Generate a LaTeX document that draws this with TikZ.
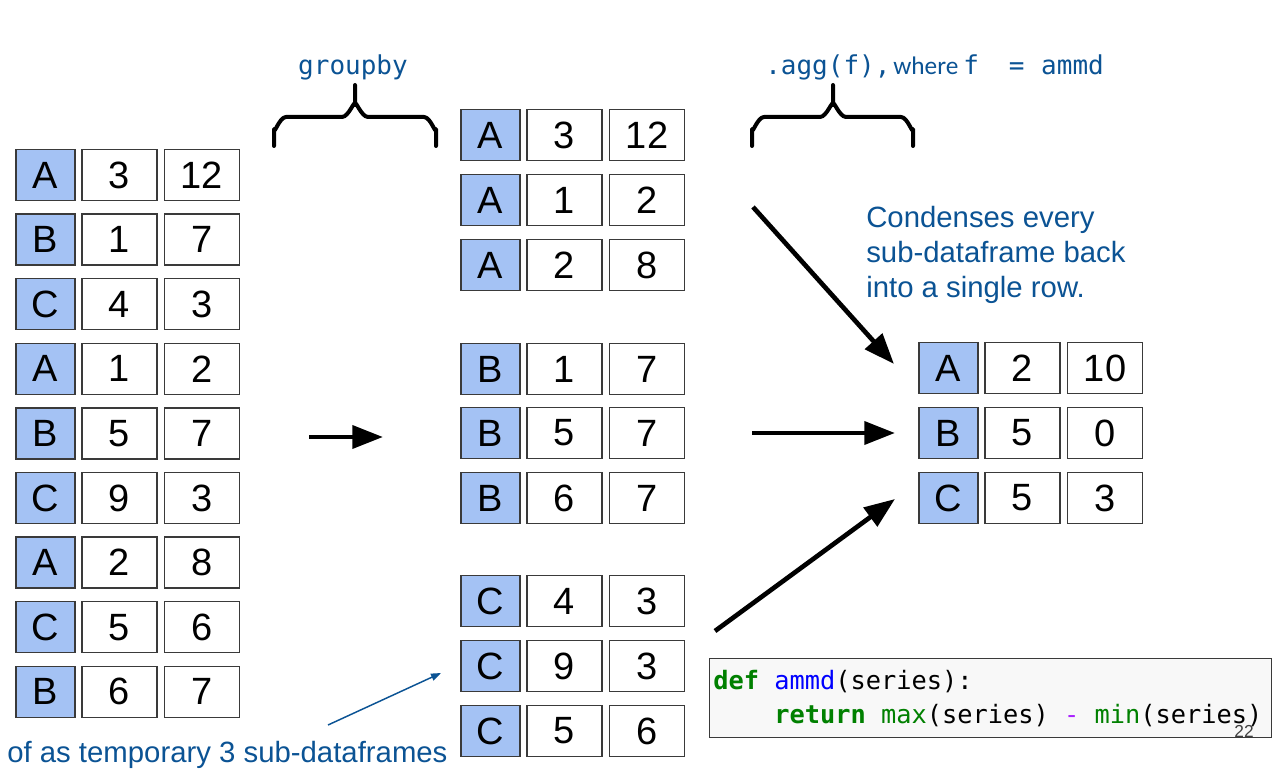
\documentclass[tikz,border=0pt]{standalone}
\usepackage{fontspec}
\setmainfont{Liberation Sans}
\newfontfamily\codefont{DejaVu Sans Mono}
\newfontfamily\calfont{Carlito}
\usetikzlibrary{arrows.meta}
\definecolor{keyblue}{HTML}{A4C2F4}
\definecolor{noteblue}{RGB}{11,83,148}
\definecolor{cellline}{HTML}{3A3A3A}
\definecolor{kwgreen}{HTML}{008000}
\definecolor{fnblue}{HTML}{0000FF}
\definecolor{oppurple}{HTML}{AA22FF}
\definecolor{codebg}{HTML}{F8F8F8}

% one row of a small data frame: name, left edge, centre y, key, two values
\newcommand\dfrow[6]{%
  \node[keycell] (#1k) at (#2+29.5,#3) {#4};
  \node[valcell] (#1a) at (#2+103.5,#3) {#5};
  \node[valcell] (#1b) at (#2+186,#3) {#6};}

\begin{document}
\begin{tikzpicture}[x=0.75pt,y=-0.75pt,
  cell/.style={draw=cellline,line width=1.1pt,inner sep=0pt,
    minimum height=38.25pt,font=\fontsize{28.5}{34}\selectfont},
  keycell/.style={cell,fill=keyblue,minimum width=44.25pt},
  valcell/.style={cell,fill=white,minimum width=56.25pt},
  bigarrow/.style={line width=3.5pt,-{Triangle[length=23pt,width=17pt]}},
  thinarrow/.style={draw=noteblue,line width=1.1pt,-{Triangle[length=7.5pt,width=5.5pt]}},
  bracestyle/.style={line width=3pt,line cap=round,line join=round},
  note/.style={text=noteblue,inner sep=0pt,font=\fontsize{22}{26.25}\selectfont},
  monolabel/.style={text=noteblue,inner sep=0pt,font=\codefont\fontsize{19.5}{23}\selectfont},
  codeline/.style={inner sep=0pt,anchor=base west,font=\codefont\fontsize{19}{23}\selectfont}]
\path[use as bounding box] (0,0) rectangle (1280,770);

% original data frame
\dfrow{L1}{16}{175}{A}{3}{12}
\dfrow{L2}{16}{239.6}{B}{1}{7}
\dfrow{L3}{16}{304.2}{C}{4}{3}
\dfrow{L4}{16}{368.8}{A}{1}{2}
\dfrow{L5}{16}{433.4}{B}{5}{7}
\dfrow{L6}{16}{498}{C}{9}{3}
\dfrow{L7}{16}{562.6}{A}{2}{8}
\dfrow{L8}{16}{627.2}{C}{5}{6}
\dfrow{L9}{16}{691.8}{B}{6}{7}

% grouped sub-frames
\dfrow{GA1}{461}{135}{A}{3}{12}
\dfrow{GA2}{461}{200}{A}{1}{2}
\dfrow{GA3}{461}{265}{A}{2}{8}
\dfrow{GB1}{461}{369}{B}{1}{7}
\dfrow{GB2}{461}{433}{B}{5}{7}
\dfrow{GB3}{461}{498}{B}{6}{7}
\dfrow{GC1}{461}{601}{C}{4}{3}
\dfrow{GC2}{461}{666}{C}{9}{3}
\dfrow{GC3}{461}{731}{C}{5}{6}

% aggregated result
\dfrow{R1}{919}{368}{A}{2}{10}
\dfrow{R2}{919}{433}{B}{5}{0}
\dfrow{R3}{919}{498}{C}{5}{3}

% braces
\draw[bracestyle] (274,146) -- (274,129) to[out=-90,in=180] (286,117) -- (342,117)
  to[out=0,in=90] (355,105) -- (355,85);
\draw[bracestyle] (436,146) -- (436,129) to[out=-90,in=0] (424,117) -- (368,117)
  to[out=180,in=90] (355,105);
\draw[bracestyle] (752,146) -- (752,129) to[out=-90,in=180] (764,117) -- (820,117)
  to[out=0,in=90] (833,105) -- (833,85);
\draw[bracestyle] (913,146) -- (913,129) to[out=-90,in=0] (901,117) -- (846,117)
  to[out=180,in=90] (833,105);

% labels above the braces
\node[monolabel,anchor=base] (grp) at (353,75) {groupby};
\node[monolabel,anchor=base west] (agg) at (765,75) {.agg(f),};
\node[note,anchor=base west,font=\calfont\fontsize{19}{23}\selectfont] (whr) at (893,75) {where};
\node[monolabel,anchor=base west] (fdef) at (963,75) {f\hspace{22.5pt}=\hspace{12.5pt}ammd};

% explanatory notes
\node[note,anchor=north west,align=left] (cond) at (866,206)
  {Condenses every\\sub-dataframe back\\into a single row.};
\node[note,anchor=base west] (tmp) at (7,762) {of as temporary 3 sub-dataframes};

% arrows
\coordinate (a1s) at (309,437);  \coordinate (a1e) at (383,437);
\coordinate (a2s) at (752,433);  \coordinate (a2e) at (895,433);
\coordinate (a3s) at (753,207);  \coordinate (a3e) at (894,364);
\coordinate (a4s) at (715,631);  \coordinate (a4e) at (895,499);
\coordinate (t1s) at (328,725);  \coordinate (t1e) at (441,673);
\draw[bigarrow] (a1s) -- (a1e);
\draw[bigarrow] (a2s) -- (a2e);
\draw[bigarrow] (a3s) -- (a3e);
\draw[bigarrow] (a4s) -- (a4e);
\draw[thinarrow] (t1s) -- (t1e);

% code listing
\node[draw=cellline,line width=1pt,fill=codebg,inner sep=0pt,
  minimum width=421.5pt,minimum height=59.25pt,anchor=north west] (code) at (709,658) {};
\node[codeline] (c1) at (713,689)
  {\textcolor{kwgreen}{\bfseries def} \textcolor{fnblue}{ammd}(series):};
\node[codeline] (c2) at (774,723)
  {\textcolor{kwgreen}{\bfseries return} \textcolor{kwgreen}{max}(series) \textcolor{oppurple}{-} \textcolor{kwgreen}{min}(series)};

% slide number
\node[inner sep=0pt,anchor=base,text=black!75,font=\fontsize{13}{15}\selectfont] (pg) at (1244,737) {22};
\end{tikzpicture}
\end{document}
